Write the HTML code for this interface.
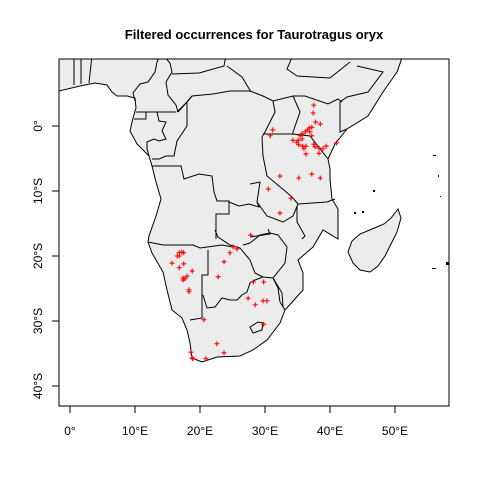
<!DOCTYPE html>
<html><head><meta charset="utf-8"><style>
body{margin:0;background:#fff}
svg{display:block;font-family:"Liberation Sans",Arial,sans-serif}
</style></head><body>
<svg id="chart" width="480" height="480" viewBox="0 0 480 480">
<defs><clipPath id="pc"><rect x="59" y="59" width="390" height="347"/></clipPath></defs>
<rect width="480" height="480" fill="#fff"/>
<text x="254" y="39" text-anchor="middle" font-size="13" font-weight="bold">Filtered occurrences for Taurotragus oryx</text>
<g clip-path="url(#pc)">
<polygon fill="#ececec" stroke="#000" stroke-width="1" points="55,55 55,92 80,86 95,83 107,85 112,92 117,96 127,96 135,98 136,108 133,118 130,131 137,144 149,156 152,166 156,182 161,199 156,216 149,236 148,242 152,253 163,272 167,290 172,310 182,318 187,330 190,343 192,358 202,362 217,357 240,356 253,350 267,340 280,323 285,310 303,290 303,273 298,260 313,247 323,230 338,239 338,209 332,199 330,179 330,169 328,159 335,144 347,129 368,116 383,92 397,72 403,55"/>
<polygon fill="#ececec" stroke="#000" stroke-width="1" points="398,209 401,218 397,232 392,242 385,256 378,266 370,272 360,270 353,263 348,252 352,241 360,234 372,229 384,224 391,218"/>
<g fill="none" stroke="#000" stroke-width="1">
<polyline points="74,55 74,85"/><polyline points="81,55 81,84"/><polyline points="92,55 89,83"/>
<polyline points="135,101 133,93 140,84 148,82 155,72 157,62 160,55"/>
<polyline points="163,55 170,63 172,72 166,82 168,95 176,105 178,112"/>
<polyline points="172,74 199,73 224,66 226,55"/>
<polyline points="227,66 242,77 251,92"/>
<polyline points="178,112 186,103 192,96 213,94 230,91 250,91 263,96 273,101 293,96 305,96 328,104 338,99 342,102"/>
<polyline points="293,55 287,69 297,76 330,78 350,62"/>
<polyline points="357,66 383,72 368,92 347,97 340,102 340,132 347,129"/>
<polyline points="293,96 300,112 293,132 293,134 310,136 328,159"/>
<polyline points="263,134 293,134"/>
<polyline points="273,101 275,112 265,132 262,137 263,156 267,176 285,191 292,197 298,204 327,202 335,199"/>
<polyline points="250,184 260,182 257,202 267,216 283,222 293,216 298,204"/>
<polyline points="297,206 297,222 305,236 302,239"/>
<polyline points="268,229 270,234 250,237"/>
<polyline points="215,230 218,237 230,245 240,248 250,260 255,273 263,277 273,278 285,263 287,247 278,235 270,233 260,235 250,243 243,245"/>
<polyline points="273,278 282,293 283,307"/>
<polyline points="152,166 181,166 184,179 199,174 212,176 214,192 217,201 229,201 229,214 216,214 216,239"/>
<polyline points="229,202 239,206 249,204 259,207 257,202"/>
<polyline points="148,242 163,245 193,245 200,248 222,245 233,247"/>
<polyline points="208,250 208,275 202,275 202,318 190,320"/>
<polyline points="203,295 207,308 215,307 222,298 230,300 237,300 242,295 247,292 250,283 255,280 263,277"/>
<polyline points="273,278 278,288 280,302 285,310"/>
<polygon points="250,327 258,322 263,323 262,330 253,333"/>
<polyline points="136,112 176,112"/><polyline points="134,119 146,119 146,112"/>
<polyline points="157,112 159,121 166,122 162,131 166,139 159,141 154,139 147,142 147,149 149,156"/>
<polyline points="177,112 187,102 192,96"/>
<polyline points="187,102 187,126 177,141 174,156 166,156 159,159 152,159"/>
</g>
<g fill="#000">
<rect x="433" y="155" width="3" height="1"/><rect x="438" y="175" width="1" height="2"/><rect x="373" y="190" width="2" height="2"/><rect x="440" y="196" width="1" height="1"/><rect x="354" y="212" width="2" height="2"/><rect x="362" y="211" width="2" height="2"/><rect x="432" y="268" width="4" height="1"/><rect x="446" y="262" width="3" height="3"/>
</g>
<g id="pts"></g>
</g>
<rect x="59" y="59" width="390" height="347" fill="none" stroke="#000"/>
<g id="axes" font-size="12" fill="#000"></g>
</svg>
<script>
const xTicks=[0,10,20,30,40,50];
const xTickLabels=["0°","10°E","20°E","30°E","40°E","50°E"];
const yTicks=[0,-10,-20,-30,-40];
const yTickLabels=["0°","10°S","20°S","30°S","40°S"];
const lons=[37.5,37.4,37.8,38.5,37.2,36.8,36.5,36.9,36.2,35.7,35.4,37.2,31.2,30.8,34.3,35.1,34.9,35.2,35.7,35.8,36.3,36.0,37.5,37.7,36.3,38.3,38.9,39.4,38.3,41.0,32.3,35.2,37.2,38.5,30.5,34.0,32.3,27.8,25.1,25.7,24.6,23.7,22.8,16.5,16.8,17.2,17.5,16.8,15.7,17.5,16.8,18.8,18.0,17.4,17.7,17.4,18.3,18.3,28.2,29.8,27.4,28.5,29.7,30.3,29.8,20.6,22.6,23.7,18.6,18.8,18.9,20.9];
const lats=[3.2,2.0,0.6,0.3,-0.2,-0.3,-0.6,-0.9,-0.9,-1.2,-1.5,-1.5,-0.6,-1.5,-2.2,-2.2,-2.5,-2.9,-2.0,-3.1,-3.1,-3.5,-2.8,-3.2,-4.3,-3.4,-3.5,-3.1,-4.2,-2.6,-7.7,-8.0,-7.4,-8.0,-9.7,-11.1,-13.4,-16.8,-18.6,-18.9,-19.5,-20.9,-23.2,-20.0,-19.5,-19.4,-19.5,-20.0,-21.1,-21.2,-21.8,-22.3,-23.1,-23.4,-23.5,-23.7,-25.2,-25.5,-24.0,-24.0,-26.5,-27.5,-26.9,-26.9,-30.5,-29.8,-33.5,-34.9,-34.8,-35.7,-35.8,-35.8];
const NS="http://www.w3.org/2000/svg";
function xS(lon){return 70+6.5*lon;}
function yS(lat){return 126-6.5*lat;}
const pts=document.getElementById('pts');
for(let i=0;i<lons.length;i++){
  const x=xS(lons[i]),y=yS(lats[i]);
  const p=document.createElementNS(NS,'path');
  p.setAttribute('d',`M${x-2.5},${y}H${x+2.5}M${x},${y-2.5}V${y+2.5}`);
  p.setAttribute('stroke','#ff0000');p.setAttribute('stroke-width','1.1');
  
  
  pts.appendChild(p);
}
const ax=document.getElementById('axes');
xTicks.forEach((t,i)=>{
  const x=xS(t);
  const l=document.createElementNS(NS,'line');
  l.setAttribute('x1',x);l.setAttribute('x2',x);l.setAttribute('y1',406);l.setAttribute('y2',413);l.setAttribute('stroke','#000');
  
  
  ax.appendChild(l);
  const tx=document.createElementNS(NS,'text');
  tx.setAttribute('x',x);tx.setAttribute('y',435);tx.setAttribute('text-anchor','middle');
  tx.textContent=xTickLabels[i];
  
  
  ax.appendChild(tx);
});
yTicks.forEach((t,i)=>{
  const y=yS(t);
  const l=document.createElementNS(NS,'line');
  l.setAttribute('x1',52);l.setAttribute('x2',59);l.setAttribute('y1',y);l.setAttribute('y2',y);l.setAttribute('stroke','#000');
  
  
  ax.appendChild(l);
  const tx=document.createElementNS(NS,'text');
  tx.setAttribute('x',42);tx.setAttribute('y',y);tx.setAttribute('text-anchor','middle');
  tx.setAttribute('transform',`rotate(-90 42 ${y})`);
  tx.textContent=yTickLabels[i];
  
  
  ax.appendChild(tx);
});
</script>
</body></html>
